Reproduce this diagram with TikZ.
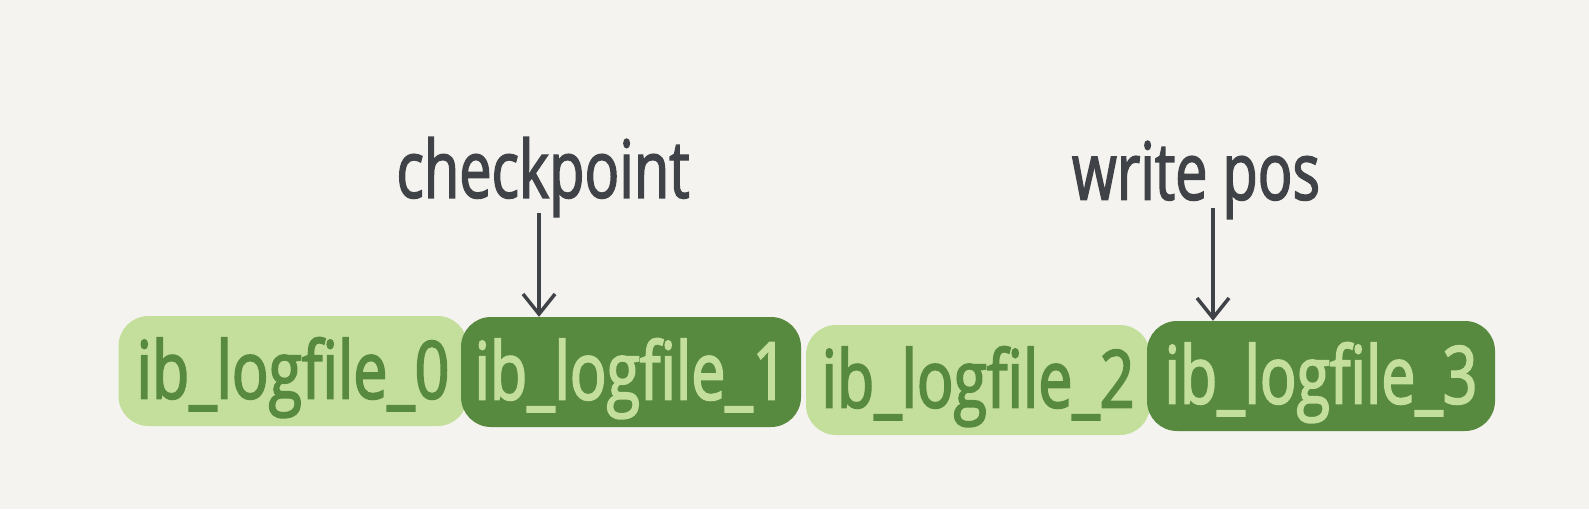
\documentclass[tikz,border=0pt]{standalone}
\usepackage{fontspec}
\usetikzlibrary{arrows.meta}
\newfontfamily\hand[FakeStretch=0.76,FakeBold=2.2]{Open Sans}
\newfontfamily\handlbl[FakeStretch=0.72,FakeBold=1.8]{Open Sans}
\definecolor{bg}{HTML}{F4F3EF}
\definecolor{lightg}{HTML}{C4DF9B}
\definecolor{darkg}{HTML}{578A3E}
\definecolor{ink}{HTML}{3F4347}
\tikzset{
  filebox/.style={rounded corners=30pt, minimum height=110pt, inner sep=0pt, font=\hand\fontsize{80}{86}\selectfont},
  lightbox/.style={filebox, fill=lightg, text=darkg},
  darkbox/.style={filebox, fill=darkg, text=lightg},
  lbl/.style={inner sep=0pt, text=ink, font=\handlbl\fontsize{80}{86}\selectfont},
  arr/.style={draw=ink, line width=3.5pt, -{Straight Barb[length=20pt,width=32pt,line width=3.5pt]}}
}
\begin{document}
\begin{tikzpicture}[x=1pt,y=-1pt]
\fill[bg] (0,0) rectangle (1589,509);
\useasboundingbox (0,0) rectangle (1589,509);
\node[lightbox, minimum width=349pt, text depth=6pt] (f0) at (293,371) {ib\_logfile\_0};
\node[darkbox, minimum width=340pt, text depth=6pt] (f1) at (631,372) {ib\_logfile\_1};
\node[lightbox, minimum width=344pt, text depth=6pt] (f2) at (978,380) {ib\_logfile\_2};
\node[darkbox, minimum width=348pt, text depth=6pt] (f3) at (1321,376) {ib\_logfile\_3};
\node[lbl] (cp) at (543,177) {checkpoint};
\node[lbl] (wp) at (1196,180) {write pos};
\coordinate (cpa) at (539,213);
\coordinate (wpa) at (1213,208);
\draw[arr] (cpa) -- (cpa |- f1.north);
\draw[arr] (wpa) -- (wpa |- f3.north);
\end{tikzpicture}
\end{document}
